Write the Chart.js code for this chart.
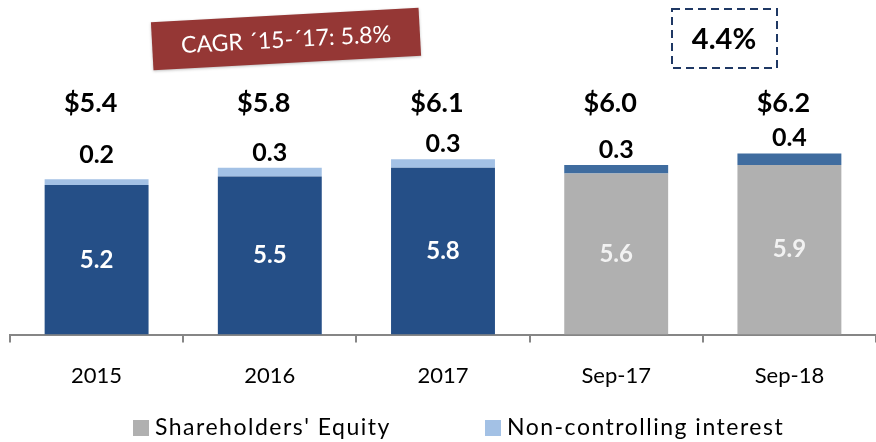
<!DOCTYPE html>
<html>
<head>
<meta charset="utf-8">
<script src="https://cdn.jsdelivr.net/npm/chart.js@4"></script>
<style>
  html, body { margin:0; padding:0; background:#fff; }
  #wrap { width:876px; height:442px; position:relative; }
</style>
</head>
<body>
<div id="wrap"><canvas id="chart"></canvas></div>
<script>
const CATEGORIES = ["2015", "2016", "2017", "Sep-17", "Sep-18"];
const EQUITY = [5.2, 5.5, 5.8, 5.6, 5.9];
const NCI = [0.2, 0.3, 0.3, 0.3, 0.4];
const TOTAL_LABELS = ["$5.4", "$5.8", "$6.1", "$6.0", "$6.2"];
const CAGR_TEXT = "CAGR \u00B415-\u00B417: 5.8%";
const GROWTH_TEXT = "4.4%";

const EQUITY_COLORS = ["#254F87", "#254F87", "#254F87", "#B0B0B0", "#B0B0B0"];
const NCI_COLORS = ["#A3C1E5", "#A3C1E5", "#A3C1E5", "#3F6C9F", "#3F6C9F"];
const FONT = "Lato, 'Open Sans', sans-serif";

const labelsPlugin = {
  id: "labels",
  afterDatasetsDraw(chart){
    const ctx = chart.ctx;
    const y = chart.scales.y;
    const eqMeta = chart.getDatasetMeta(0);
    const nciMeta = chart.getDatasetMeta(1);
    ctx.save();
    ctx.textAlign = "center";
    ctx.textBaseline = "middle";
    eqMeta.data.forEach((bar, i) => {
      // value inside the equity segment
      ctx.font = `bold 24px ${FONT}`;
      ctx.fillStyle = i < 3 ? "#FFFFFF" : "#F2F2F2";
      ctx.fillText(EQUITY[i].toFixed(1), bar.x, (bar.y + bar.base) / 2);
      // non-controlling value above
      const top = nciMeta.data[i].y;
      ctx.fillStyle = "#000";
      ctx.font = `bold 25px ${FONT}`;
      ctx.fillText(NCI[i].toFixed(1), bar.x, Math.min(y.getPixelForValue(6.25), top - 15));
      // total
      ctx.font = `bold 27px ${FONT}`;
      ctx.fillText(TOTAL_LABELS[i], bar.x - 6, y.getPixelForValue(8.05));
    });

    // CAGR badge
    ctx.save();
    ctx.translate(286, 39);
    ctx.rotate(-3.1 * Math.PI / 180);
    ctx.fillStyle = "#953735";
    ctx.shadowColor = "rgba(0,0,0,0.25)";
    ctx.shadowBlur = 3;
    ctx.shadowOffsetY = 1;
    ctx.fillRect(-134, -24, 268, 48);
    ctx.shadowColor = "transparent";
    ctx.fillStyle = "#fff";
    ctx.font = `23px ${FONT}`;
    ctx.fillText(CAGR_TEXT, 0, 1);
    ctx.restore();

    // growth box
    ctx.strokeStyle = "#1F3864";
    ctx.lineWidth = 2;
    ctx.setLineDash([8, 5]);
    ctx.strokeRect(672, 9, 105, 59);
    ctx.setLineDash([]);
    ctx.fillStyle = "#000";
    ctx.font = `bold 29px ${FONT}`;
    ctx.fillText(GROWTH_TEXT, 724, 40);

    // legend
    const legendItems = [
      { text: chart.data.datasets[0].label, color: "#B0B0B0", x: 133 },
      { text: chart.data.datasets[1].label, color: "#A3C1E5", x: 485 }
    ];
    ctx.textAlign = "left";
    ctx.font = `23px ${FONT}`;
    ctx.letterSpacing = "1.5px";
    for (const it of legendItems){
      ctx.fillStyle = it.color;
      ctx.fillRect(it.x, 420, 16, 16);
      ctx.fillStyle = "#000";
      ctx.fillText(it.text, it.x + 22, 428);
    }
    ctx.restore();
  }
};

new Chart(document.getElementById("chart"), {
  type: "bar",
  data: {
    labels: CATEGORIES,
    datasets: [
      { label: "Shareholders' Equity", data: EQUITY, backgroundColor: EQUITY_COLORS },
      { label: "Non-controlling interest", data: NCI, backgroundColor: NCI_COLORS }
    ]
  },
  options: {
    responsive: true,
    maintainAspectRatio: false,
    animation: false,
    datasets: { bar: { barPercentage: 0.6, categoryPercentage: 1 } },
    layout: { padding: { left: 10, right: 0, top: 47, bottom: 33 } },
    plugins: {
      tooltip: { enabled: false },
      legend: { display: false }
    },
    scales: {
      x: {
        stacked: true,
        grid: { drawOnChartArea: false, drawTicks: true, tickLength: 8, color: "#868686", lineWidth: 2 },
        border: { color: "#868686", width: 2 },
        ticks: { font: { family: FONT, size: 22 }, color: "#000", padding: 20 }
      },
      y: {
        stacked: true,
        display: false,
        min: 0,
        max: 10
      }
    }
  },
  plugins: [labelsPlugin]
});
</script>
</body>
</html>
